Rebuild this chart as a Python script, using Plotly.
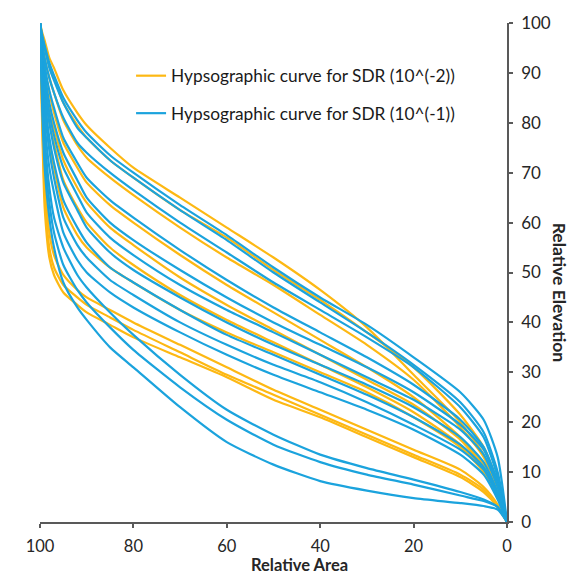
import plotly.graph_objects as go

# Relative area grid (x) shared by all curves
rel_area = [100, 99.5, 99, 98, 97, 95, 92, 90, 85, 80, 70, 60, 50, 40, 30, 20, 10, 5, 2, 0]

# Relative elevation for SDR (10^(-2)) curves (orange)
o1 = [100, 98, 96.5, 93, 91, 86.5, 82, 79.5, 75, 71, 65, 59, 53, 46.5, 39, 29.5, 20, 13.5, 7, 0]
o2 = [100, 97, 95, 91.5, 89, 84, 79.5, 77, 72.5, 69, 62.5, 57, 50.5, 44.5, 38, 31, 21.5, 15, 8, 0]
o3 = [100, 96, 93, 89, 86, 80.5, 75.5, 73, 69, 65.5, 59, 53, 47.5, 41.5, 35.5, 28.5, 19, 13, 6.5, 0]
o4 = [100, 95, 91, 86, 82, 76, 71, 68, 63.5, 60, 53.5, 47.5, 42, 36.5, 31, 25, 17, 11.5, 6, 0]
o5 = [100, 94, 89, 83, 79, 72.5, 67, 64, 59, 55.5, 49, 43.5, 38.5, 33.5, 28.5, 23.5, 16.5, 11, 5.5, 0]
o6 = [100, 92, 87, 80, 76, 68.5, 63, 60, 55, 51.5, 45.5, 40.5, 36, 31.5, 27, 22, 15.5, 10.5, 5, 0]
o7 = [100, 90, 84, 76, 71, 63, 57.5, 55, 51, 48, 42.5, 38, 34, 30, 26, 21, 15, 10, 5, 0]
o8 = [100, 82, 69, 58, 53.5, 49.5, 46.5, 45, 42.5, 40, 35.5, 31, 26.5, 22.5, 18.5, 14.5, 10.5, 7, 3.5, 0]
o9 = [100, 80, 66, 55, 51, 47.5, 45, 43.5, 41, 38.5, 34, 29.5, 25.5, 21.5, 17.5, 13.5, 9.5, 6.5, 3, 0]
o10 = [100, 78, 63, 53, 49.5, 46, 43.5, 42, 39.5, 37, 33, 29, 24.5, 21, 17, 13, 9, 6, 3, 0]

# Relative elevation for SDR (10^(-1)) curves (blue)
b1 = [100, 97.5, 95.5, 92, 89.5, 85, 80.5, 78, 73.5, 70, 63.5, 57.5, 51, 45, 39.5, 33, 26, 20.5, 13, 0]
b2 = [100, 97, 95, 91, 88.5, 84, 79, 77, 72.5, 69, 62.5, 56.5, 50, 44, 38, 31.5, 24, 18, 10, 0]
b3 = [100, 96, 93, 89, 86, 81, 76, 74, 70, 66.5, 60, 54, 48, 42.5, 37, 31, 23, 17, 9, 0]
b4 = [100, 95, 91.5, 86.5, 83, 77, 72, 69, 64.5, 61, 54.5, 48.5, 43, 38, 33, 27.5, 20.5, 15, 8, 0]
b5 = [100, 94, 90, 84, 80, 74, 68.5, 65, 60, 56.5, 50.5, 45, 40, 35.5, 31, 26, 19.5, 14.5, 7.5, 0]
b6 = [100, 93, 88, 82, 77.5, 71, 65.5, 62, 57, 53.5, 47.5, 42.5, 38, 33.5, 29, 24.5, 18.5, 13.5, 7, 0]
b7 = [100, 92, 86.5, 80, 75, 68, 62.5, 59, 54, 50.5, 45, 40, 35.5, 31.5, 27.5, 23, 17, 12, 6, 0]
b8 = [100, 91, 85, 77, 72, 64.5, 59, 56, 51, 48, 42.5, 37.5, 33.5, 29.5, 25.5, 21, 15.5, 11, 5.5, 0]
b9 = [100, 90, 83, 74.5, 69, 61, 55.5, 53, 48.5, 45.5, 40, 35.5, 31.5, 28, 24, 19.5, 14.5, 10.5, 5, 0]
b10 = [100, 88, 80, 71, 66, 58, 52.5, 50, 46, 43, 38, 33.5, 29.5, 26, 22.5, 18.5, 13.5, 9.5, 4.5, 0]
b11 = [100, 86, 77, 67, 61, 55, 49.5, 47, 42, 37.5, 29.5, 22.5, 17.5, 13.5, 10.8, 8.5, 6, 4.5, 3, 0]
b12 = [100, 84, 74, 64, 58, 51.5, 46.5, 44, 39, 34.5, 27, 20.5, 15.5, 12, 9.5, 7.5, 5.3, 4.2, 3, 0]
b13 = [100, 82, 71, 61, 55, 48, 43, 40.5, 35, 31, 23, 16, 11.5, 8.2, 6.3, 4.8, 3.8, 3.2, 2.5, 0]

orange_curves = [o1, o2, o3, o4, o5, o6, o7, o8, o9, o10]
blue_curves = [b1, b2, b3, b4, b5, b6, b7, b8, b9, b10, b11, b12, b13]

x_ticks = [100, 80, 60, 40, 20, 0]
y_ticks = [0, 10, 20, 30, 40, 50, 60, 70, 80, 90, 100]

ORANGE = "#FDB813"
BLUE = "#1BA3DD"
AXIS = "#595959"
FONT = "Lato"
TXT = "#262626"

fig = go.Figure()

for i, ys in enumerate(orange_curves):
    fig.add_trace(go.Scatter(
        x=rel_area, y=ys, mode="lines",
        line=dict(color=ORANGE, width=2.2, shape="spline", smoothing=0.6),
        name="Hypsographic curve for SDR (10^(-2))",
        legendgroup="o", showlegend=(i == 0), legendrank=1,
    ))
for i, ys in enumerate(blue_curves):
    fig.add_trace(go.Scatter(
        x=rel_area, y=ys, mode="lines",
        line=dict(color=BLUE, width=2.2, shape="spline", smoothing=0.6),
        name="Hypsographic curve for SDR (10^(-1))",
        legendgroup="b", showlegend=(i == 0), legendrank=2,
    ))

fig.update_layout(
    width=577, height=574,
    margin=dict(l=40, r=70, t=15, b=52),
    paper_bgcolor="white", plot_bgcolor="white",
    font=dict(family=FONT, size=16, color=TXT),
    showlegend=True,
    legend=dict(
        x=0.195, y=0.93, xanchor="left", yanchor="top",
        bgcolor="rgba(0,0,0,0)", borderwidth=0,
        tracegroupgap=12, font=dict(size=17.3, color="#1a1a1a"),
        traceorder="grouped",
    ),
    xaxis=dict(
        range=[100, 0], tickvals=x_ticks, ticktext=[str(v) for v in x_ticks],
        showgrid=False, zeroline=False, showline=True,
        linecolor=AXIS, linewidth=1.5, ticks="outside", ticklen=4,
        tickcolor=AXIS, tickwidth=1.5, ticklabelstandoff=4,
        tickfont=dict(size=16.5, color=TXT),
    ),
    yaxis=dict(
        range=[0, 100], tickvals=y_ticks, side="right",
        showgrid=False, zeroline=False, showline=True,
        linecolor=AXIS, linewidth=1.5, ticks="outside", ticklen=4,
        tickcolor=AXIS, tickwidth=1.5, ticklabelstandoff=5,
        tickfont=dict(size=17, color=TXT),
    ),
    annotations=[
        dict(text="<b>Relative Area</b>", xref="paper", yref="paper",
             x=0.555, y=-0.087, xanchor="center", yanchor="middle",
             showarrow=False, font=dict(size=16.5, color=TXT)),
        dict(text="<b>Relative Elevation</b>", xref="paper", yref="paper",
             x=1.113, y=0.46, xanchor="center", yanchor="middle", textangle=90,
             showarrow=False, font=dict(size=17.5, color=TXT)),
    ],
)

fig.write_html("out.html")
